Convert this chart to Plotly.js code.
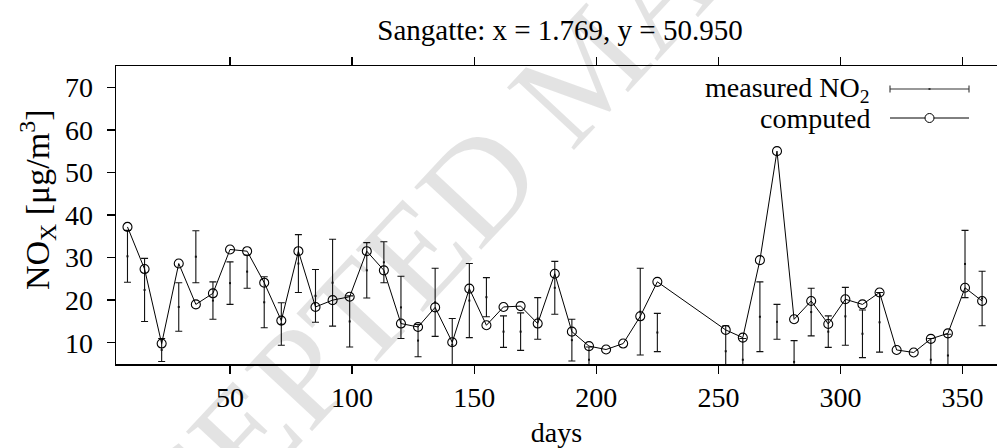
<!DOCTYPE html>
<html>
<head>
<meta charset="utf-8">
<script src="https://cdn.plot.ly/plotly-3.0.1.min.js"></script>
<style>
html,body{margin:0;padding:0;background:#fff;overflow:hidden;}
#chart{width:997px;height:448px;}
</style>
</head>
<body>
<div id="chart"></div>
<script>
// Days (weekly samples)
const days = [8,15,22,29,36,43,50,57,64,71,78,85,92,99,106,113,120,127,134,141,148,155,162,169,176,183,190,197,204,211,218,225,
              253,260,267,274,281,288,295,302,309,316,323,330,337,344,351,358];
// Computed NOx
const computed = [37.2,27.3,9.8,28.6,19.0,21.6,31.9,31.5,24.1,15.2,31.5,18.4,20.0,20.8,31.5,27.0,14.5,13.7,18.3,10.1,22.7,14.1,18.4,18.6,14.5,26.2,12.6,9.2,8.4,9.8,16.2,24.3,
                  13.0,11.2,29.4,55.0,15.5,19.8,14.4,20.2,19.0,21.8,8.3,7.7,10.9,12.2,22.9,19.8];
// Measured NO2 (centre) and its error
const measured = [30.3,22.4,8.3,18.4,30.2,19.9,24.0,26.7,19.5,14.4,28.6,21.0,24.1,15.0,27.0,28.9,18.3,10.5,19.5,9.5,19.9,20.7,12.6,12.6,15.7,22.9,10.6,6.0,null,null,17.3,12.4,
                  8.0,6.0,16.1,14.9,5.5,17.2,12.6,16.2,12.1,14.8,null,null,6.0,7.0,28.5,20.4];
const measuredErr = [6.1,7.4,2.7,5.7,6.1,4.4,5.0,3.9,6.0,5.0,6.8,6.2,10.2,6.0,6.5,4.8,7.3,3.8,8.0,6.2,8.7,4.6,3.7,4.4,4.9,6.2,4.9,3.0,null,null,10.2,4.5,
                  6.0,5.0,8.2,4.1,5.0,5.6,3.7,6.8,5.6,7.0,null,null,5.0,5.0,7.9,6.4];
const xTicks = [50,100,150,200,250,300,350];
const yTicks = [10,20,30,40,50,60,70];

const FONT = "Liberation Serif, Times New Roman, serif";

const traces = [
  {
    x: days, y: measured, type: 'scatter', mode: 'markers', name: 'measured NO2',
    marker: {color: '#111', size: 2, symbol: 'square'},
    error_y: {type: 'data', array: measuredErr, visible: true, color: '#111', thickness: 1.1, width: 3.5},
    showlegend: false, hoverinfo: 'skip'
  },
  {
    x: days, y: computed, type: 'scatter', mode: 'lines+markers', name: 'computed',
    line: {color: '#000', width: 1},
    marker: {symbol: 'circle-open', size: 9, color: '#000', line: {width: 1.1, color: '#000'}},
    showlegend: false, hoverinfo: 'skip'
  }
];

// Manual legend (text on the left, sample on the right)
const plotL = 116, plotW = 881, plotT = 66, plotH = 298;
const px = v => (v - plotL) / plotW;
const py = v => 1 - (v - plotT) / plotH;
const sx0 = px(890), sx1 = px(969), sxm = px(929.5);
const r1 = py(89), r2 = py(118);

const shapes = [
  {type:'line', xref:'paper', yref:'paper', x0:sx0, x1:sx1, y0:r1, y1:r1, line:{color:'#333', width:1.1}},
  {type:'line', xref:'paper', yref:'paper', ysizemode:'pixel', yanchor:r1, x0:sx0, x1:sx0, y0:-3.5, y1:3.5, line:{color:'#333', width:1.1}},
  {type:'line', xref:'paper', yref:'paper', ysizemode:'pixel', yanchor:r1, x0:sx1, x1:sx1, y0:-3.5, y1:3.5, line:{color:'#333', width:1.1}},
  {type:'rect', xref:'paper', yref:'paper', xsizemode:'pixel', ysizemode:'pixel', xanchor:sxm, yanchor:r1, x0:-1, x1:1, y0:-1, y1:1, line:{width:0}, fillcolor:'#333'},
  {type:'line', xref:'paper', yref:'paper', x0:sx0, x1:sx1, y0:r2, y1:r2, line:{color:'#000', width:1}},
  {type:'circle', xref:'paper', yref:'paper', xsizemode:'pixel', ysizemode:'pixel', xanchor:sxm, yanchor:r2, x0:-4.5, x1:4.5, y0:-4.5, y1:4.5, line:{color:'#000', width:1}, fillcolor:'#fff'}
];

const annotations = [
  {xref:'paper', yref:'paper', x:px(585), y:py(68), text:'ACCEPTED MANUSCRIPT', showarrow:false, textangle:-47,
   font:{family:FONT, size:140, color:'rgba(0,0,0,0.11)'}, xanchor:'center', yanchor:'middle'},
  {xref:'paper', yref:'paper', x:px(872), y:r1, text:'measured NO<sub>2</sub>', showarrow:false, xanchor:'right', yanchor:'middle',
   font:{family:FONT, size:28, color:'#000'}},
  {xref:'paper', yref:'paper', x:px(872), y:r2, text:'computed', showarrow:false, xanchor:'right', yanchor:'middle',
   font:{family:FONT, size:28, color:'#000'}},
  {xref:'paper', yref:'paper', x:px(37), y:py(200), text:'NO<sub>X</sub> [μg/m<sup>3</sup>]', showarrow:false, textangle:-90,
   xanchor:'center', yanchor:'middle', font:{family:FONT, size:34, color:'#000'}}
];

const layout = {
  width: 997, height: 448,
  margin: {l: plotL, r: 0, t: plotT, b: 448 - plotT - plotH, pad: 0},
  paper_bgcolor: '#fff', plot_bgcolor: '#fff',
  font: {family: FONT, size: 28, color: '#000'},
  title: {text: 'Sangatte: x = 1.769, y = 50.950', font: {family: FONT, size: 29, color: '#000'},
          x: px(560), xref: 'paper', xanchor: 'center', y: 1 - 30/448, yref: 'container', yanchor: 'middle'},
  xaxis: {
    range: [3.3, 364.1], tickvals: xTicks, ticktext: xTicks.map(String),
    ticks: 'outside', ticklen: 8, tickwidth: 1.3, tickcolor: '#000',
    showline: true, linecolor: '#000', linewidth: 1.5, mirror: 'allticks',
    showgrid: false, zeroline: false,
    tickfont: {family: FONT, size: 28, color: '#000'},
    title: {text: 'days', font: {family: FONT, size: 28, color: '#000'}, standoff: 10}
  },
  yaxis: {
    range: [5, 75], tickvals: yTicks, ticktext: yTicks.map(String),
    ticks: 'outside', ticklen: 8, tickwidth: 1.3, tickcolor: '#000',
    showline: true, linecolor: '#000', linewidth: 1.5, mirror: false,
    showgrid: false, zeroline: false, ticklabelstandoff: 8,
    tickfont: {family: FONT, size: 28, color: '#000'}
  },
  shapes: shapes,
  annotations: annotations,
  showlegend: false
};

Plotly.newPlot('chart', traces, layout, {staticPlot: true, displayModeBar: false});
</script>
</body>
</html>
